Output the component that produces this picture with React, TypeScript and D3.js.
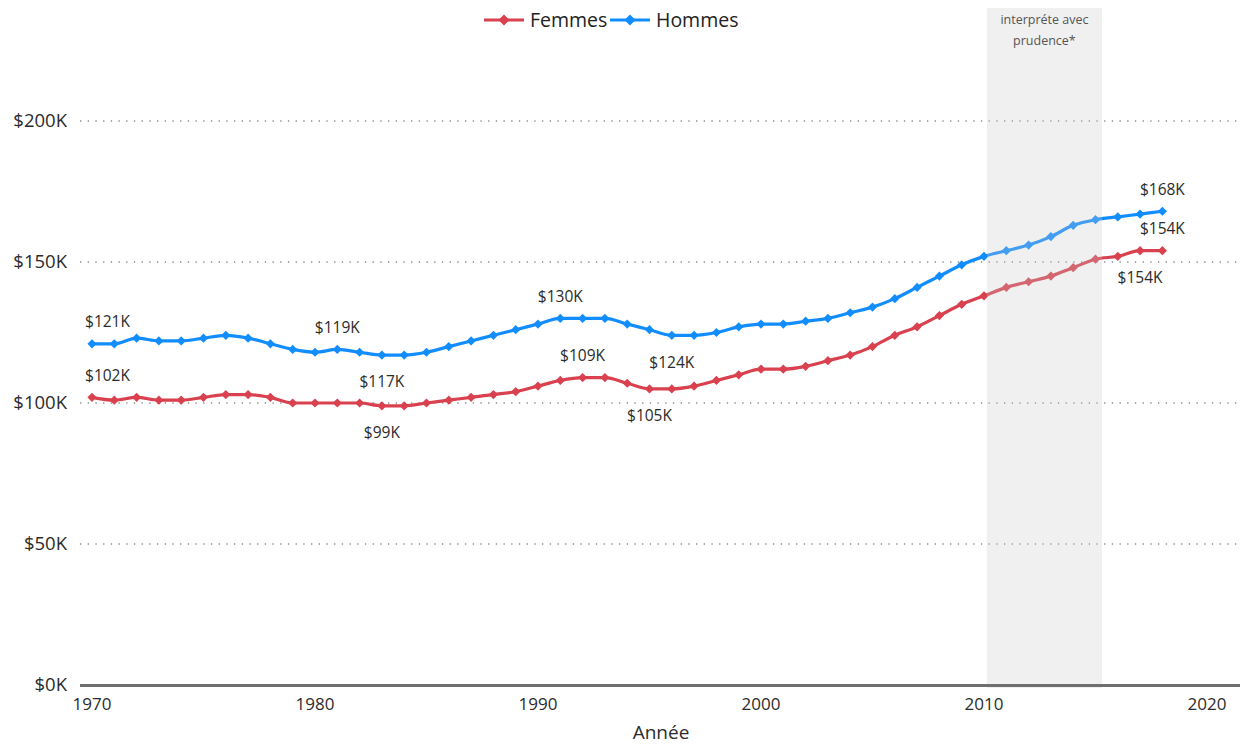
import React from "react";
import * as d3 from "d3";

const years: number[] = d3.range(1970, 2019);
const femmes: number[] = [
  102, 101, 102, 101, 101, 102, 103, 103, 102, 100,
  100, 100, 100, 99, 99, 100, 101, 102, 103, 104,
  106, 108, 109, 109, 107, 105, 105, 106, 108, 110,
  112, 112, 113, 115, 117, 120, 124, 127, 131, 135,
  138, 141, 143, 145, 148, 151, 152, 154, 154,
];
const hommes: number[] = [
  121, 121, 123, 122, 122, 123, 124, 123, 121, 119,
  118, 119, 118, 117, 117, 118, 120, 122, 124, 126,
  128, 130, 130, 130, 128, 126, 124, 124, 125, 127,
  128, 128, 129, 130, 132, 134, 137, 141, 145, 149,
  152, 154, 156, 159, 163, 165, 166, 167, 168,
];
const seriesNames = ["Femmes", "Hommes"];
const seriesColors = ["#D9414F", "#118DFF"];
// data labels: series index, year, placement
const labelSeries: number[] = [1, 0, 1, 1, 0, 1, 0, 0, 1, 1, 0, 0];
const labelYears: number[] = [1970, 1970, 1981, 1983, 1983, 1991, 1992, 1995, 1996, 2018, 2018, 2017];
const labelPlace: string[] = ["above", "above", "above", "below", "below", "above", "above", "below", "below", "above", "above", "below"];
const yTicks: number[] = [0, 50, 100, 150, 200];
const xTicks: number[] = [1970, 1980, 1990, 2000, 2010, 2020];
const shadeRange: number[] = [2010.13, 2015.29];
const shadeText: string[] = ["interpréte avec", "prudence*"];

const W = 1240;
const H = 744;
const FONT = "'Open Sans', 'Noto Sans', sans-serif";

export default function App() {
  const x = d3.scaleLinear().domain([1970, 2020]).range([92, 1207]);
  const y = d3.scaleLinear().domain([0, 200]).range([685, 121]);
  const plotLeft = 80;
  const plotRight = 1240;
  const data = [femmes, hommes];
  const line = d3
    .line<number>()
    .x((_, i) => x(years[i]))
    .y((v) => y(v))
    .curve(d3.curveMonotoneX);
  const diamond = (cx: number, cy: number, r: number) =>
    `M${cx},${cy - r}L${cx + r},${cy}L${cx},${cy + r}L${cx - r},${cy}Z`;

  return (
    <svg
      width={W}
      height={H}
      style={{ position: "absolute", left: 0, top: 0, background: "#fff" }}
      fontFamily={FONT}
    >
      {yTicks.map((t) =>
        t === 0 ? null : (
          <line
            key={t}
            x1={plotLeft}
            x2={plotRight}
            y1={y(t)}
            y2={y(t)}
            stroke="#8a8a8a"
            strokeWidth={1.3}
            strokeDasharray="1.3,6.4"
          />
        )
      )}
      {yTicks.map((t) => (
        <text
          key={t}
          x={67}
          y={y(t)}
          dy="0.35em"
          textAnchor="end"
          fontSize={18.5}
          fill="#2b2b2b"
        >
          {`$${t}K`}
        </text>
      ))}
      {data.map((s, si) => (
        <g key={si}>
          <path d={line(s) || ""} fill="none" stroke={seriesColors[si]} strokeWidth={3.2} />
          {s.map((v, i) => (
            <path key={i} d={diamond(x(years[i]), y(v), 4.6)} fill={seriesColors[si]} />
          ))}
        </g>
      ))}
      <rect
        x={x(shadeRange[0])}
        y={8}
        width={x(shadeRange[1]) - x(shadeRange[0])}
        height={680}
        fill="#C8C8C8"
        opacity={0.28}
      />
      {shadeText.map((t, i) => (
        <text
          key={i}
          x={(x(shadeRange[0]) + x(shadeRange[1])) / 2}
          y={20 + i * 21}
          dy="0.35em"
          textAnchor="middle"
          fontSize={12.5}
          fill="#555"
        >
          {t}
        </text>
      ))}
      <line x1={plotLeft} x2={plotRight} y1={685.5} y2={685.5} stroke="#6f6f6f" strokeWidth={3} />
      {xTicks.map((t) => (
        <text key={t} x={x(t)} y={704} dy="0.35em" textAnchor="middle" fontSize={17} fill="#2b2b2b">
          {t}
        </text>
      ))}
      <text x={661} y={732} dy="0.35em" textAnchor="middle" fontSize={19} fill="#2b2b2b">
        Année
      </text>
      {labelYears.map((yr, k) => {
        const si = labelSeries[k];
        const idx = years.indexOf(yr);
        const v = data[si][idx];
        const px = x(yr);
        const py = y(v) + (labelPlace[k] === "above" ? -22 : 27);
        const txt = `$${v}K`;
        const halfW = txt.length * 4.7;
        const cx = Math.max(px, 84 + halfW);
        return (
          <text key={k} x={cx} y={py} dy="0.35em" textAnchor="middle" fontSize={15.5} fill="#2b2b2b">
            {txt}
          </text>
        );
      })}
      {seriesNames.map((n, i) => {
        const lx = i === 0 ? 484 : 610;
        return (
          <g key={n}>
            <line x1={lx} x2={lx + 40} y1={20} y2={20} stroke={seriesColors[i]} strokeWidth={3} />
            <path d={diamond(lx + 20, 20, 5.5)} fill={seriesColors[i]} />
            <text x={lx + 46} y={20} dy="0.35em" fontSize={19.5} fill="#222">
              {n}
            </text>
          </g>
        );
      })}
    </svg>
  );
}
